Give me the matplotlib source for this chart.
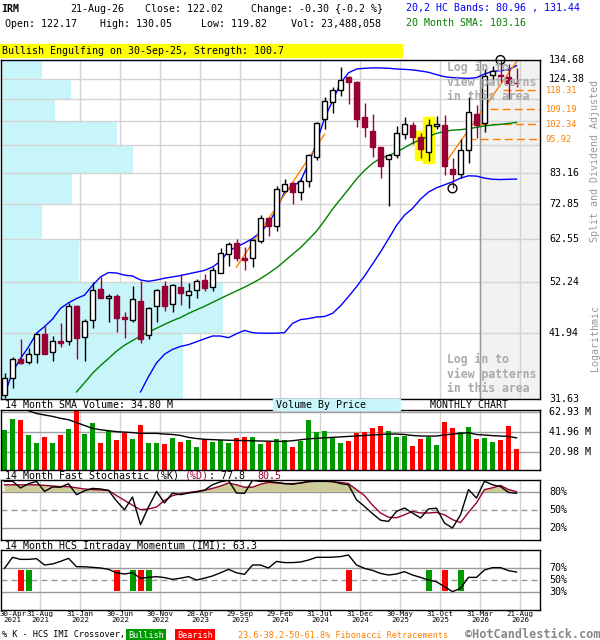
import matplotlib
matplotlib.use("Agg")
import matplotlib.pyplot as plt
import matplotlib.transforms as mtransforms
import matplotlib.ticker as mticker
from matplotlib.patches import Rectangle
import numpy as np

plt.rcParams['font.family'] = 'DejaVu Sans Mono'
plt.rcParams['font.size'] = 7.2

# ---- monthly data, 30-Apr-2021 .. 21-Aug-2026 (split and dividend adjusted) ----
opens = [32.2, 34.6, 37.6, 37.1, 38.4, 41.7, 38.6, 40.5, 40.6, 47.0,
         41.2, 44.4, 50.6, 48.6, 49.1, 44.9, 44.3, 48.1, 41.6, 47.0,
         51.2, 47.4, 51.0, 49.3, 50.4, 52.5, 51.0, 54.3, 58.9, 61.5,
         57.7, 57.7, 62.1, 68.7, 66.2, 76.8, 79.6, 76.7, 80.3, 88.9,
         104.7, 112.4, 118.5, 125.1, 122.8, 105.5, 99.6, 92.8, 88.1, 89.8,
         98.0, 101.8, 97.1, 90.8, 101.5, 102.2, 84.4, 82.9, 91.5, 107.0,
         103.0, 126.4, 126.4, 125.4, 122.17]
highs = [35.3, 37.9, 40.9, 39.4, 41.9, 43.3, 41.4, 43.7, 47.6, 47.2,
         44.6, 52.2, 53.2, 49.5, 49.5, 45.8, 51.2, 52.3, 46.8, 50.7,
         52.4, 51.8, 53.9, 52.0, 52.9, 53.9, 55.6, 60.4, 61.9, 62.8,
         60.6, 62.8, 69.3, 68.8, 78.5, 80.9, 80.0, 81.4, 90.2, 103.2,
         114.9, 119.8, 130.5, 126.0, 123.0, 112.1, 107.0, 93.0, 90.2, 101.4,
         105.5, 103.2, 98.7, 104.7, 106.2, 106.5, 88.5, 96.2, 114.9, 110.9,
         129.6, 131.5, 134.68, 132.4, 130.05]
lows = [31.8, 33.2, 36.8, 36.7, 36.9, 38.3, 37.2, 39.5, 39.8, 37.6,
        37.2, 42.9, 48.6, 43.9, 42.1, 41.0, 43.9, 40.2, 40.8, 44.0,
        46.0, 45.9, 47.2, 46.6, 48.6, 50.2, 50.2, 54.1, 55.9, 57.0,
        55.0, 55.6, 61.6, 63.4, 64.9, 76.6, 72.7, 73.9, 78.2, 88.0,
        100.4, 107.3, 115.7, 111.7, 101.0, 96.8, 88.9, 81.3, 72.2, 88.5,
        95.9, 94.2, 88.5, 87.3, 100.1, 82.3, 77.8, 81.3, 86.8, 96.4,
        98.9, 121.6, 122.4, 114.1, 119.82]
closes = [34.6, 37.5, 36.9, 38.3, 41.7, 38.4, 40.5, 40.2, 47.0, 41.1,
          44.1, 50.4, 48.7, 49.1, 44.7, 44.5, 48.4, 40.8, 46.6, 50.5,
          47.0, 51.4, 49.7, 50.2, 52.4, 50.9, 54.9, 59.1, 61.3, 57.9,
          57.3, 62.5, 68.7, 66.3, 77.5, 79.4, 76.6, 80.2, 89.6, 102.8,
          113.2, 118.5, 123.7, 122.8, 104.7, 101.0, 92.8, 85.6, 89.6, 98.7,
          102.5, 96.8, 91.9, 101.8, 102.5, 85.8, 82.6, 91.5, 107.7, 101.8,
          125.6, 128.7, 125.6, 122.1, 122.02]
volume_m = [43.3, 55.6, 54.5, 38.8, 30.4, 36.7, 30.4, 38.8, 45.1, 66.0,
            39.9, 51.4, 30.4, 43.0, 33.6, 40.2, 34.6, 49.3, 30.4, 30.4,
            29.4, 35.7, 31.5, 33.6, 26.2, 33.9, 31.5, 33.6, 30.4, 35.7,
            36.7, 36.7, 29.4, 31.5, 34.6, 33.6, 26.2, 32.5, 54.5, 42.0,
            43.0, 35.7, 30.4, 32.5, 40.9, 42.0, 46.2, 48.3, 43.0, 36.7,
            37.8, 27.3, 34.6, 36.7, 28.3, 52.4, 46.2, 42.0, 47.2, 34.6,
            35.7, 31.5, 33.6, 48.3, 23.5]

# 20,2 HC bands and 20 month SMA
upper_band = [32.2, 35.5, 37.6, 39.5, 41.9, 43.1, 44.5, 46.6, 47.7, 48.6,
              49.3, 51.4, 53.3, 54.3, 54.2, 53.7, 53.5, 52.6, 52.3, 52.6,
              53.0, 53.3, 53.6, 54.0, 54.4, 54.8, 55.6, 57.0, 59.5, 60.6,
              61.6, 62.8, 64.5, 67.0, 71.0, 76.6, 78.4, 80.3, 86.5, 94.5,
              105.0, 113.0, 122.0, 127.5, 129.6, 130.0, 130.2, 130.2, 130.0, 129.6,
              129.4, 129.1, 128.5, 127.8, 126.5, 125.4, 124.9, 124.7, 124.5, 124.9,
              126.9, 128.3, 128.7, 129.1, 131.44]
lower_band_start = 17
lower_band = [32.6, 34.8, 36.9, 38.3, 39.1, 39.6, 39.9, 40.4, 40.9, 41.4,
              41.4, 41.1, 41.8, 42.4, 42.0, 41.9, 41.9, 41.9, 42.0, 43.7,
              44.4, 44.6, 44.9, 45.0, 45.6, 47.1, 49.0, 51.1, 53.5, 56.3,
              59.3, 62.7, 66.4, 69.4, 71.4, 74.3, 76.6, 78.0, 79.0, 80.0,
              81.3, 82.1, 82.0, 81.3, 80.9, 80.8, 80.9, 80.96]
sma_start = 9
sma20 = [32.6, 33.9, 35.3, 36.5, 37.6, 38.8, 39.8, 40.6, 41.4, 42.1,
         42.8, 43.5, 44.2, 44.8, 45.6, 46.3, 47.0, 47.8, 48.6, 49.4,
         50.2, 51.0, 51.9, 52.9, 54.1, 55.4, 57.0, 58.7, 60.4, 62.5,
         64.8, 67.8, 71.2, 74.3, 77.5, 81.0, 84.0, 86.6, 88.5, 89.5,
         90.8, 92.6, 94.4, 95.8, 97.2, 98.4, 99.3, 99.8, 100.0, 100.4,
         101.0, 101.6, 102.0, 102.3, 102.7, 103.16]

vol_sma_start = 3
vol_sma = [64.0, 61.0, 59.5, 58.0, 56.0, 54.5, 51.5, 48.5, 45.5, 44.0,
           43.0, 42.0, 41.5, 41.0, 40.2, 40.2, 40.2, 39.5, 39.0, 38.0,
           36.0, 34.8, 34.0, 33.6, 33.3, 33.0, 32.8, 32.6, 32.4, 32.2,
           32.0, 31.8, 31.8, 32.5, 33.5, 34.5, 35.0, 35.5, 36.0, 36.5,
           37.0, 37.5, 38.0, 38.5, 39.0, 39.5, 39.5, 39.0, 38.0, 37.4,
           37.4, 37.4, 38.5, 39.5, 40.2, 40.9, 39.0, 38.5, 37.8, 37.4,
           37.0, 35.5]

pct_k = [97.7, 98.0, 86.7, 93.8, 97.7, 81.0, 88.3, 88.0, 93.8, 75.5,
         82.0, 86.0, 85.0, 82.7, 65.0, 50.5, 71.7, 25.5, 55.0, 81.0,
         61.7, 78.3, 75.5, 78.3, 80.0, 83.0, 92.2, 97.0, 99.4, 78.3,
         77.8, 99.4, 97.7, 97.7, 96.0, 94.0, 93.0, 95.0, 97.7, 97.7,
         97.7, 97.7, 94.0, 92.0, 67.0, 56.0, 44.0, 33.0, 31.0, 47.7,
         53.3, 45.0, 36.7, 51.7, 53.0, 28.3, 20.0, 42.0, 84.0, 70.0,
         98.0, 92.0, 89.0, 79.3, 77.8]
pct_d = [92.0, 92.0, 92.0, 92.0, 92.0, 91.0, 90.0, 89.0, 89.0, 87.0,
         85.0, 84.0, 83.5, 82.7, 74.0, 66.0, 58.0, 50.5, 51.7, 55.0,
         66.0, 74.0, 77.0, 79.0, 81.0, 83.0, 86.0, 90.0, 95.0, 92.0,
         88.0, 88.0, 93.0, 96.0, 95.0, 94.0, 94.0, 95.0, 97.0, 98.0,
         98.0, 97.0, 96.0, 94.0, 84.0, 74.0, 58.0, 45.0, 38.0, 37.0,
         42.0, 47.7, 45.0, 45.0, 46.0, 42.0, 34.0, 29.0, 46.0, 62.0,
         84.0, 87.0, 91.0, 84.0, 80.5]
imi = [69.4, 87.8, 84.4, 84.4, 85.6, 75.0, 76.7, 81.0, 86.1, 72.2,
       72.0, 71.1, 70.0, 67.8, 62.0, 60.0, 62.2, 52.8, 54.4, 55.6,
       54.0, 51.1, 53.0, 55.6, 50.0, 53.0, 56.7, 62.0, 67.8, 62.0,
       59.4, 75.0, 75.0, 70.0, 81.0, 79.0, 79.0, 80.0, 83.3, 87.8,
       87.8, 88.0, 89.0, 91.7, 75.0, 69.4, 66.0, 61.0, 58.3, 60.0,
       63.9, 58.3, 54.4, 50.0, 47.0, 38.9, 30.6, 36.1, 54.4, 54.4,
       66.7, 70.6, 70.6, 65.6, 63.3]
bull_cross = [3, 16, 18, 53, 57]
bear_cross = [2, 14, 17, 43, 55]

# volume by price, rows between the price grid levels (bottom to top), % of max
price_grid = [31.63, 41.94, 52.24, 62.55, 72.85, 83.16, 93.47, 103.76, 114.07, 124.38, 134.68]
vbp = [82.0, 100.0, 35.1, 18.5, 32.0, 59.5, 52.3, 24.3, 31.5, 18.5]
price_labels = [31.63, 41.94, 52.24, 62.55, 72.85, 83.16, 124.38, 134.68]
vol_grid = [20.98, 41.96, 62.93]

# fibonacci and trend lines, pivots
fib_levels = [118.31, 109.19, 102.34, 95.92]
trend1_x, trend1_y = [29, 40], [55.6, 98.0]
trend2_x, trend2_y = [55, 64], [86.3, 133.6]
pivot_x, pivot_y = [62, 56], [134.68, 77.8]
pattern_months = [52, 53]

tick_months = [4, 9, 14, 19, 24, 29, 34, 39, 44, 49, 54, 59, 64]
tick_text = ['31-Aug\n2021', '31-Jan\n2022', '30-Jun\n2022', '30-Nov\n2022',
             '28-Apr\n2023', '29-Sep\n2023', '29-Feb\n2024', '31-Jul\n2024',
             '31-Dec\n2024', '30-May\n2025', '31-Oct\n2025', '31-Mar\n2026',
             '21-Aug\n2026']

DOWN = '#990033'
months = np.arange(len(closes))
o, h, l, c = map(np.array, (opens, highs, lows, closes))
up = c >= o

fig = plt.figure(figsize=(6, 6.4), dpi=100)


def fx(px):
    return px / 600


def fy(py):
    return 1 - py / 640


def panel(top, bottom):
    return fig.add_axes([fx(1), fy(bottom), fx(539), (bottom - top) / 640])


ax_p = panel(60, 399)
ax_v = panel(410, 470)
ax_s = panel(480, 540)
ax_m = panel(550, 610)

x_lo, x_hi = -0.4375, 66.9375
for ax in (ax_p, ax_v, ax_s, ax_m):
    ax.set_xlim(x_lo, x_hi)
    for sp in ax.spines.values():
        sp.set_linewidth(1)
        sp.set_color('black')
        sp.set_zorder(6)
    for m in tick_months:
        ax.axvline(m + 0.45, color='#d3d3d3', lw=1, zorder=0.55)

# ---------------- price panel ----------------
ax_p.set_yscale('log')
ax_p.set_ylim(price_grid[0], price_grid[-1])
for lv in price_grid:
    ax_p.axhline(lv, color='#d3d3d3', lw=1, zorder=0.7)
ax_p.axvspan(59.45, x_hi, color='#f2f2f2', zorder=0.5)
ax_p.axvline(59.45, color='#999999', lw=1, zorder=0.8)
ax_p.barh(price_grid[:-1], np.array(vbp) * 27.75 / 100, height=np.diff(price_grid),
          left=x_lo, align='edge', color='#c8f5fa', zorder=0.6)

for yy, ttl in ((67, 'Log in to'), (82, 'view patterns'), (97, 'in this area'),
                (359, 'Log in to'), (374, 'view patterns'), (389, 'in this area')):
    fig.text(fx(447), fy(yy), ttl, color='#aaaaaa', fontsize=8.3, weight='bold',
             va='center', ha='left', zorder=0.9)

for i in pattern_months:
    ax_p.add_patch(Rectangle((i - 0.66, l[i] / 1.008), 1.32, h[i] * 1.008 - l[i] / 1.008,
                             color='#ffff00', zorder=1.5))

ax_p.plot(months, upper_band, color='#0000ff', lw=1, zorder=2.5)
ax_p.plot(months[lower_band_start:], lower_band, color='#0000ff', lw=1, zorder=2.5)
ax_p.plot(months[sma_start:], sma20, color='#008000', lw=1, zorder=2.5)
ax_p.plot(trend1_x, trend1_y, color='#ff8000', lw=1, zorder=2.6)
ax_p.plot(trend2_x, trend2_y, color='#ff8000', lw=1, zorder=2.6)

trans_p = mtransforms.blended_transform_factory(ax_p.transAxes, ax_p.transData)
for lv in fib_levels:
    t = np.log(lv / trend2_y[0]) / np.log(trend2_y[1] / trend2_y[0])
    xs = trend2_x[0] + t * (trend2_x[1] - trend2_x[0]) + 0.8
    ax_p.plot([xs, x_hi], [lv, lv], color='#ff8000', lw=1, ls=(0, (5.8, 2.9)), zorder=2.4)
    ax_p.text(1.011, lv, f'{lv:.2f}', transform=trans_p, color='#ff8000', fontsize=6.3,
              va='center', ha='left', clip_on=False)

col = np.where(up, 'black', DOWN)
ax_p.vlines(months, l, h, colors=col, lw=1, zorder=3)
lo_b, hi_b = np.minimum(o, c), np.maximum(o, c)
ax_p.bar(months[up], hi_b[up] - lo_b[up], bottom=lo_b[up], width=0.62,
         facecolor='white', edgecolor='black', lw=1, zorder=4)
ax_p.bar(months[~up], hi_b[~up] - lo_b[~up], bottom=lo_b[~up], width=0.62,
         facecolor=DOWN, edgecolor=DOWN, lw=1, zorder=4)
ax_p.scatter(pivot_x, pivot_y, s=40, facecolors='none', edgecolors='black',
             linewidths=1, zorder=5, clip_on=False)

for lv in price_labels:
    ax_p.text(1.0167, lv, f'{lv:.2f}', transform=trans_p, va='center', ha='left', clip_on=False)

# ---------------- volume panel ----------------
ax_v.set_ylim(1.8, 64.7)
for lv in vol_grid:
    ax_v.axhline(lv, color='#a0a0a0', lw=1, zorder=0.7)
ax_v.bar(months, volume_m, width=0.72, color=np.where(up, '#009900', '#ff0000'), zorder=2)
ax_v.plot(months[vol_sma_start:], vol_sma, color='black', lw=1, zorder=3)
trans_v = mtransforms.blended_transform_factory(ax_v.transAxes, ax_v.transData)
for lv in vol_grid:
    ax_v.text(1.0167, lv, f'{lv:.2f} M', transform=trans_v, va='center', ha='left')

# ---------------- stochastic panel ----------------
k_arr, d_arr = np.array(pct_k), np.array(pct_d)
ax_s.set_ylim(0, 100)
for lv, ls in ((80, '-'), (50, (0, (4.3, 2.9))), (20, '-')):
    ax_s.axhline(lv, color='#999999', lw=1, ls=ls, zorder=0.7)
ax_s.fill_between(months, 80, d_arr, where=d_arr >= 80, interpolate=True,
                  color='#cccc99', lw=0, zorder=1)
ax_s.plot(months, d_arr, color=DOWN, lw=1, zorder=2)
ax_s.plot(months, k_arr, color='black', lw=1, zorder=3)
trans_s = mtransforms.blended_transform_factory(ax_s.transAxes, ax_s.transData)
for lv in (80, 50, 20):
    ax_s.text(1.0167, lv, f'{lv}%', transform=trans_s, va='center', ha='left')

# ---------------- IMI panel ----------------
ax_m.set_ylim(0, 100)
for lv, ls in ((70, '-'), (50, (0, (4.3, 2.9))), (30, '-')):
    ax_m.axhline(lv, color='#999999', lw=1, ls=ls, zorder=0.7)
ax_m.bar(bull_cross, 34, bottom=32.5, width=0.75, color='#009900', zorder=2)
ax_m.bar(bear_cross, 34, bottom=32.5, width=0.75, color='#ff0000', zorder=2)
ax_m.plot(months, imi, color='black', lw=1, zorder=3)
trans_m = mtransforms.blended_transform_factory(ax_m.transAxes, ax_m.transData)
for lv in (70, 50, 30):
    ax_m.text(1.0167, lv, f'{lv}%', transform=trans_m, va='center', ha='left')

for ax in (ax_p, ax_v, ax_s, ax_m):
    ax.xaxis.set_major_locator(mticker.NullLocator())
    ax.xaxis.set_minor_locator(mticker.NullLocator())
    ax.yaxis.set_major_locator(mticker.NullLocator())
    ax.yaxis.set_minor_locator(mticker.NullLocator())

# x labels under the IMI panel
trans_x = mtransforms.blended_transform_factory(ax_m.transData, ax_m.transAxes)
ax_m.text(-0.003, -0.02, '30-Apr\n2021', transform=ax_m.transAxes, ha='left', va='top',
          fontsize=5.4, linespacing=1.0, multialignment='center')
for m, s in zip(tick_months, tick_text):
    ax_m.text(m + 0.45, -0.02, s, transform=trans_x, ha='center', va='top',
              fontsize=5.4, linespacing=1.0, multialignment='center', clip_on=False)

# ---------------- header texts ----------------
fig.text(fx(1), fy(9), 'IRM', weight='bold', va='center')
fig.text(fx(70), fy(9), '21-Aug-26', va='center')
fig.text(fx(145), fy(9), 'Close: 122.02', va='center')
fig.text(fx(251), fy(9), 'Change: -0.30 {-0.2 %}', va='center')
fig.text(fx(406), fy(8), '20,2 HC Bands: 80.96 , 131.44', color='#0000ff', va='center')
fig.text(fx(5), fy(24), 'Open: 122.17', va='center')
fig.text(fx(100), fy(24), 'High: 130.05', va='center')
fig.text(fx(201), fy(24), 'Low: 119.82', va='center')
fig.text(fx(291), fy(24), 'Vol: 23,488,058', va='center')
fig.text(fx(406), fy(23), '20 Month SMA: 103.16', color='#008000', va='center')

fig.patches.append(Rectangle((fx(0), fy(57)), fx(402), 13 / 640, color='#ffff00',
                             transform=fig.transFigure, zorder=0))
fig.text(fx(2), fy(50.5), 'Bullish Engulfing on 30-Sep-25, Strength: 100.7', va='center')

fig.text(fx(595), fy(161), 'Split and Dividend Adjusted', rotation=90, color='#999999',
         ha='center', va='center')
fig.text(fx(595), fy(338), 'Logarithmic', rotation=90, color='#999999',
         ha='center', va='center')

# panel titles
fig.patches.append(Rectangle((fx(273), fy(410)), fx(127), 11 / 640, color='#c8f5fa',
                             transform=fig.transFigure, zorder=0))
fig.text(fx(5), fy(405), '14 Month SMA Volume: 34.80 M', va='center')
fig.text(fx(276), fy(405), 'Volume By Price', va='center')
fig.text(fx(430), fy(405), 'MONTHLY CHART', va='center')

fig.text(fx(5), fy(476), '14 Month Fast Stochastic (%K) ', va='center')
fig.text(fx(185), fy(476), '(%D)', color=DOWN, va='center')
fig.text(fx(209), fy(476), ': 77.8', va='center')
fig.text(fx(257), fy(476), '80.5', color=DOWN, va='center')
fig.text(fx(5), fy(546), '14 Month HCS Intraday Momentum (IMI): 63.3', va='center')

# bottom legend
fig.text(fx(2), fy(635), '% K - HCS IMI Crossover,', fontsize=6.1, va='center')
fig.text(fx(128), fy(635), 'Bullish', fontsize=6.1, color='white', va='center',
         bbox=dict(facecolor='#009900', edgecolor='none', pad=1.2))
fig.text(fx(177), fy(635), 'Bearish', fontsize=6.1, color='white', va='center',
         bbox=dict(facecolor='#ff0000', edgecolor='none', pad=1.2))
fig.text(fx(238), fy(635), '23.6-38.2-50-61.8% Fibonacci Retracements', fontsize=6.1,
         color='#ff8000', va='center')
fig.text(fx(600), fy(634), '\u00a9HotCandlestick.com', fontsize=8.6, weight='bold',
         color='#888888', ha='right', va='center')

fig.savefig('out.png', dpi=100)
